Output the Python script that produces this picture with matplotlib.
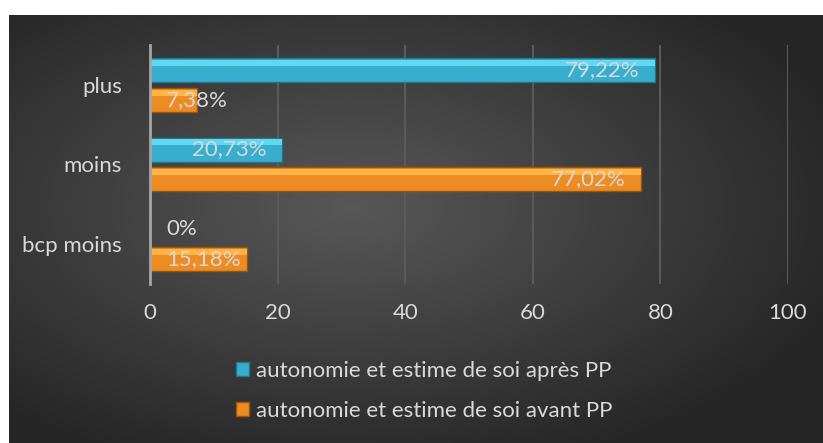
import numpy as np
import matplotlib.pyplot as plt

# données
categories = ["bcp moins", "moins", "plus"]
apres = [0, 20.73, 79.22]
avant = [15.18, 77.02, 7.38]
label_apres = ["0%", "20,73%", "79,22%"]
label_avant = ["15,18%", "77,02%", "7,38%"]
serie_apres = "autonomie et estime de soi après PP"
serie_avant = "autonomie et estime de soi avant PP"
xticks = [0, 20, 40, 60, 80, 100]

plt.rcParams['font.family'] = ['Lato', 'DejaVu Sans']
txt = "#d9d9d9"

fig = plt.figure(figsize=(8.23, 4.43), dpi=100, facecolor="white")

# fond dégradé radial
bg = fig.add_axes([9/823, 0, 814/823, 428/443])
yy, xx = np.mgrid[0:1:300j, 0:1:500j]
r = np.sqrt(((xx - 0.42) / 0.75) ** 2 + ((yy - 0.45) / 0.75) ** 2)
r = np.clip(r / 0.85, 0, 1)
v = 0.345 - 0.195 * r
bg.imshow(np.dstack([v, v, v]), aspect="auto", extent=[0, 1, 0, 1], origin="upper")
bg.axis("off")

ax = fig.add_axes([150/823, 1 - 284/443, (788-150)/823, (284-45)/443])
ax.patch.set_alpha(0)

y = np.arange(len(categories))
h = 0.30
off = 0.1875
b1 = ax.barh(y + off, apres, height=h, color="#37aecd", edgecolor="#1f7690", linewidth=1, zorder=3)
b2 = ax.barh(y - off, avant, height=h, color="#ec8c22", edgecolor="#9a5510", linewidth=1, zorder=3)

# reflet en haut des barres
ax.barh(y + off + h*0.3, apres, height=h*0.25, color="#63d6f0", linewidth=0, zorder=4)
ax.barh(y - off + h*0.3, avant, height=h*0.25, color="#ffb445", linewidth=0, zorder=4)

for vals, labs, dy in [(apres, label_apres, off), (avant, label_avant, -off)]:
    for i, (val, lab) in enumerate(zip(vals, labs)):
        if val > 18:
            ax.text(val - 2.5, i + dy, lab, ha="right", va="center", color=txt, fontsize=16, zorder=5)
        else:
            ax.text(2.5, i + dy, lab, ha="left", va="center", color=txt, fontsize=16, zorder=5)

ax.set_xlim(0, 100)
ax.set_ylim(-0.5, 2.5)
ax.set_xticks(xticks)
ax.set_xticklabels([str(t) for t in xticks])
ax.set_yticks(y)
ax.set_yticklabels(categories)
ax.tick_params(length=0, colors=txt, labelsize=16)
ax.tick_params(axis="x", pad=14)
ax.tick_params(axis="y", pad=20)
ax.grid(axis="x", color="#5a5a5a", linewidth=1.5, zorder=0)
for s in ["top", "right", "bottom"]:
    ax.spines[s].set_visible(False)
ax.spines["left"].set_color("#a6a6a6")
ax.spines["left"].set_linewidth(2)
ax.spines["left"].set_zorder(6)

leg = fig.legend([b1, b2], [serie_apres, serie_avant], loc="center",
                 bbox_to_anchor=(0.515, 1 - 391/443), frameon=False,
                 fontsize=16, labelcolor=txt, handlelength=0.6, handleheight=0.6,
                 handletextpad=0.3, labelspacing=0.9)

fig.savefig("out.png", dpi=100, facecolor="white")
